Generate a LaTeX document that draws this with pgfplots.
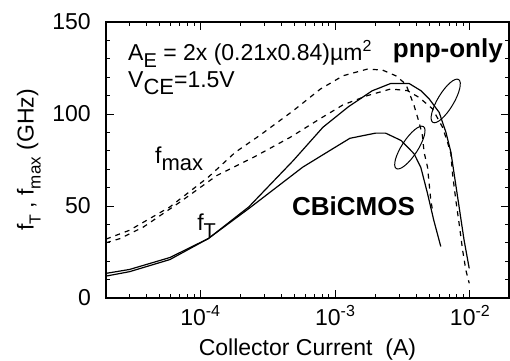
\documentclass[border=0pt]{standalone}
\usepackage{fontspec}
\setmainfont{Liberation Sans}
\usepackage{pgfplots}
\pgfplotsset{compat=1.18}
\usetikzlibrary{shapes.geometric}
\newcommand{\sub}[2][20]{\raisebox{-7pt}{\fontsize{#1}{#1}\selectfont #2}}
\newcommand{\super}[1]{\raisebox{8.3pt}{\fontsize{16}{16}\selectfont #1}}
\begin{document}
\fontsize{23}{27}\selectfont
\begin{tikzpicture}
\useasboundingbox (-106pt,-62pt) rectangle (404pt,298pt);
\begin{axis}[
  at={(0pt,0pt)}, anchor=south west,
  scale only axis, width=403pt, height=276pt,
  xmode=log, xmin=2e-5, xmax=1.95e-2,
  ymin=0, ymax=150,
  xtick={1e-4,1e-3,1e-2},
  xticklabels={10\super{-4},10\super{-3},10\super{-2}},
  minor xtick={2e-5,3e-5,4e-5,5e-5,6e-5,7e-5,8e-5,9e-5,2e-4,3e-4,4e-4,5e-4,6e-4,7e-4,8e-4,9e-4,2e-3,3e-3,4e-3,5e-3,6e-3,7e-3,8e-3,9e-3},
  ytick={0,50,100,150}, yticklabels={0,50,100,150},
  minor ytick={10,20,30,40,60,70,80,90,110,120,130,140},
  tick align=inside, major tick length=8pt, minor tick length=4pt,
  tick style={black, line width=1pt},
  axis line style={line width=1.1pt},
  yticklabel style={anchor=east, inner sep=0pt, xshift=-15pt},
  xticklabel style={anchor=base, inner sep=0pt, yshift=-27pt},
  xlabel={Collector Current\ \ (A)},
  xlabel style={at={(axis description cs:0.5,-0.210)}, anchor=base, inner sep=0pt},
  ylabel={f\sub[16]{T} , f\sub[17]{max} (GHz)},
  ylabel style={at={(axis description cs:-0.161,0.5)}, anchor=south, inner sep=0pt},
]
% CBiCMOS fT
\addplot[black, no markers, line width=1.2pt] coordinates {(2e-5,11.9) (2.985e-5,14.3) (5.957e-5,20.9) (1.148e-4,32.3) (2.291e-4,48.6) (5.754e-4,71.1) (9.12e-4,80.1) (1.288e-3,86.8) (1.995e-3,89.6) (2.371e-3,89.6) (3.09e-3,85.6) (3.855e-3,78.4) (4.325e-3,71) (4.842e-3,57) (5.395e-3,42.3) (6.081e-3,28)};
% pnp-only fT
\addplot[black, no markers, line width=1.2pt] coordinates {(2e-5,13.4) (2.985e-5,15.5) (5.957e-5,22.0) (1.148e-4,32.3) (2.291e-4,49.5) (4.898e-4,74.7) (8.128e-4,92.8) (1.259e-3,104) (1.884e-3,112.6) (2.588e-3,116.6) (3.54e-3,116.6) (4.325e-3,112.7) (4.989e-3,108.2) (5.916e-3,100.9) (6.637e-3,90.1) (7.228e-3,79.3) (7.638e-3,67.6) (8.318e-3,49.5) (9.057e-3,31.4) (9.886e-3,16.1)};
% CBiCMOS fmax
\addplot[black, no markers, line width=1.2pt, dash pattern=on 5pt off 5pt] coordinates {(2e-5,32) (2.985e-5,36.8) (5.957e-5,49.5) (1.148e-4,65.7) (1.82e-4,79.2) (2.754e-4,88.3) (4.898e-4,101.8) (7.762e-4,113.5) (1.148e-3,120.8) (1.734e-3,124.4) (2.244e-3,123.9) (2.818e-3,120.8) (3.342e-3,116.3) (3.54e-3,111.8) (3.855e-3,104.6) (4.198e-3,95.5) (4.446e-3,88.3) (4.571e-3,79.3) (4.853e-3,71.1) (4.989e-3,62.1) (5.129e-3,53.1) (5.284e-3,47.7)};
% pnp-only fmax
\addplot[black, no markers, line width=1.2pt, dash pattern=on 5pt off 5pt] coordinates {(2e-5,30) (2.541e-5,32.3) (3.793e-5,38.6) (7.096e-5,52.2) (1.33e-4,66.6) (2.489e-4,76.5) (4.667e-4,87.4) (7.762e-4,97.5) (1.148e-3,105) (1.738e-3,110) (2.588e-3,113.6) (3.443e-3,112.7) (4.198e-3,109) (5.284e-3,102.8) (6.266e-3,92.8) (6.823e-3,84.7) (7.228e-3,78.4) (7.43e-3,67.6) (7.87e-3,53.1) (8.318e-3,40.5) (8.831e-3,26) (9.333e-3,15.2) (9.886e-3,8)};
\node[anchor=base west, inner sep=0] at (rel axis cs:0.0546,0.862) {A\sub{E} = 2x (0.21x0.84)µm\super{2}};
\node[anchor=base west, inner sep=0] at (rel axis cs:0.0546,0.761) {V\sub[22]{CE}=1.5V};
\node[anchor=base east, inner sep=0, font=\bfseries\fontsize{26}{30}\selectfont] at (rel axis cs:0.985,0.872) {pnp-only};
\node[anchor=base west, inner sep=0] at (rel axis cs:0.1216,0.489) {f\sub[22]{max}};
\node[anchor=base west, inner sep=0] at (rel axis cs:0.226,0.246) {f\sub[20]{T}};
\node[anchor=base west, inner sep=0, font=\bfseries\fontsize{26}{30}\selectfont] at (rel axis cs:0.4615,0.30) {CBiCMOS};
\node[draw, ellipse, line width=1pt, minimum width=50pt, minimum height=16pt, inner sep=0, rotate=57] at (rel axis cs:0.754,0.545) {};
\node[draw, ellipse, line width=1pt, minimum width=50pt, minimum height=16pt, inner sep=0, rotate=59] at (rel axis cs:0.843,0.714) {};
\end{axis}
\end{tikzpicture}
\end{document}
